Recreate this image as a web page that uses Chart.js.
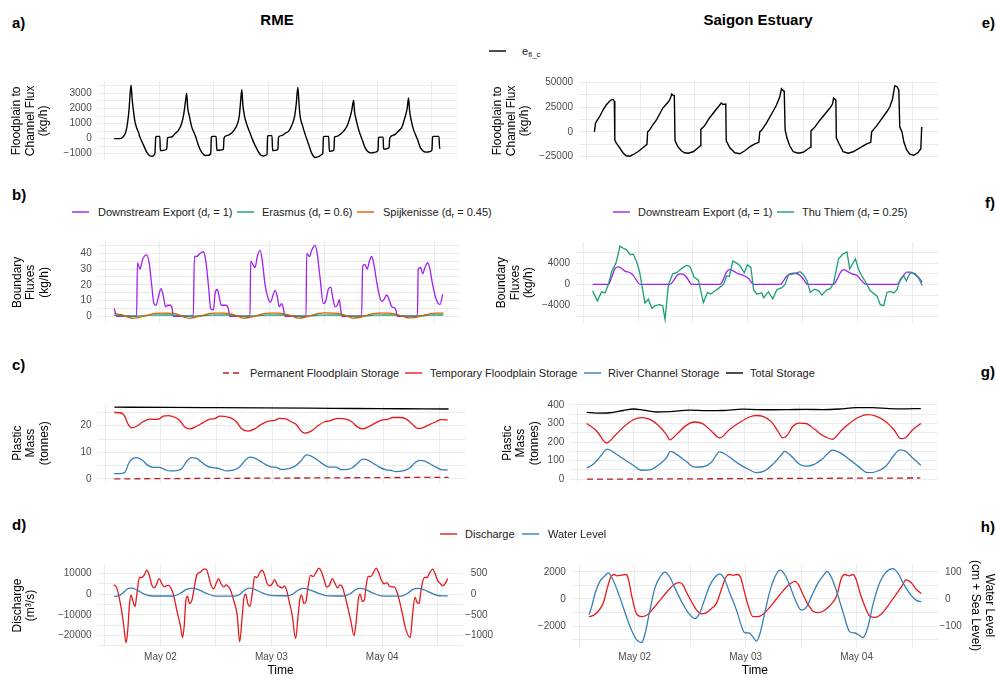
<!DOCTYPE html>
<html>
<head>
<meta charset="utf-8">
<script src="https://cdn.jsdelivr.net/npm/chart.js@4.4.1/dist/chart.umd.min.js"></script>
<style>
  html, body { margin: 0; padding: 0; background: #fff; }
  body { width: 996px; height: 678px; position: relative; overflow: hidden;
         font-family: 'Liberation Sans', Arial, sans-serif; color: #000; }
  canvas { position: absolute; }
  .tag { position: absolute; font-weight: bold; font-size: 15px; line-height: 18px; }
  .colTitle { position: absolute; font-weight: bold; font-size: 15px; line-height: 18px;
              transform: translateX(-50%); white-space: nowrap; }
  .key { position: absolute; height: 14px; display: flex; align-items: center;
         font-size: 11px; color: #222; white-space: nowrap; }
  .key sub { font-size: 8px; vertical-align: -2px; line-height: 0; }
</style>
</head>
<body>
<div class="tag" style="left:12px;top:14px">a)</div>
<div class="tag" style="left:12px;top:186px">b)</div>
<div class="tag" style="left:12px;top:356px">c)</div>
<div class="tag" style="left:12px;top:516px">d)</div>
<div class="tag" style="right:1px;top:14px">e)</div>
<div class="tag" style="right:1px;top:194px">f)</div>
<div class="tag" style="right:1px;top:363px">g)</div>
<div class="tag" style="right:1px;top:518px">h)</div>
<div class="colTitle" style="left:277px;top:11px">RME</div>
<div class="colTitle" style="left:758px;top:11px">Saigon Estuary</div>

<canvas id="pa"></canvas>
<canvas id="pe"></canvas>
<canvas id="pb"></canvas>
<canvas id="pf"></canvas>
<canvas id="pc"></canvas>
<canvas id="pg"></canvas>
<canvas id="pd"></canvas>
<canvas id="ph"></canvas>

<script>
// time axis is hours since May 01 00:00
const timeGrid = [36, 48, 60, 72, 84, 96, 108];
const dayTicks = [48, 72, 96];
const dayLabels = ['May 02', 'May 03', 'May 04'];

// a) RME floodplain to channel flux (kg/h)
const aTime = [38.0,39.3,40.1,40.6,41.0,41.3,41.5,41.75,42.0,42.3,42.6,43.0,43.4,43.7,44.5,45.2,45.9,46.5,47.0,47.2,
  47.4,48.1,48.2,48.9,49.6,49.8,50.4,50.9,51.5,52.2,52.9,53.4,53.8,54.0,
  54.25,54.6,55.1,55.9,56.6,57.3,58.1,58.8,59.3,59.45,59.7,60.5,60.65,61.4,62.1,62.25,62.9,63.6,64.3,65.1,65.6,65.9,66.15,
  66.4,66.75,67.3,68.0,68.7,69.5,70.2,70.9,71.7,71.85,72.05,72.8,72.95,73.5,74.1,74.25,75.0,75.7,76.5,77.2,77.8,78.15,78.5,
  78.75,79.0,79.5,80.1,80.9,81.6,82.3,83.1,83.8,84.0,84.15,84.4,85.3,85.45,86.0,86.45,86.6,87.1,87.9,88.6,89.3,89.9,90.4,90.8,
  91.0,91.4,91.9,92.6,93.4,94.1,94.8,95.6,96.15,96.3,96.5,97.3,97.4,98.1,98.6,98.75,99.3,100.0,100.7,101.5,102.0,102.6,102.9,
  103.15,103.5,104.0,104.8,105.5,106.2,107.0,107.7,108.05,108.2,108.4,109.6,109.75,109.9];
const aFlux = [0,0,150,450,1100,1900,2800,3550,2600,1800,1150,700,400,100,-430,-900,-1150,-1170,-1000,100,
  150,150,-800,-780,-700,50,100,150,350,550,1000,1700,2600,3000,
  2000,1500,800,200,-450,-900,-1120,-1100,-1000,100,150,150,-780,-760,-700,50,200,300,500,900,1500,2500,3250,
  2200,1500,900,350,-200,-700,-1050,-1150,-1050,150,200,200,-800,-780,-720,100,200,350,500,900,1500,2300,3400,
  2400,1500,900,300,-400,-1000,-1250,-1200,-1050,-950,100,150,150,-850,-820,-750,100,150,300,500,800,1300,1900,2550,
  1800,1200,600,0,-650,-900,-950,-900,-800,50,100,100,-700,-680,-600,0,200,300,500,800,1300,2000,2700,
  1800,1200,600,0,-600,-850,-900,-850,-760,100,150,150,-650,-600];
const aTicks = [-1000, 0, 1000, 2000, 3000];
const aGrid = [-1000, -500, 0, 500, 1000, 1500, 2000, 2500, 3000, 3500];

// e) Saigon floodplain to channel flux (kg/h)
const eTime = [37.8,38.05,38.9,39.7,40.4,41.2,41.6,42.0,42.2,42.3,42.6,43.4,44.1,44.8,45.6,46.3,47.4,48.5,49.4,49.55,
  50.0,50.7,51.5,52.2,52.9,53.7,54.25,54.6,54.85,55.15,55.44,55.6,56.25,57.0,57.7,58.5,59.6,60.7,61.2,61.3,
  62.1,63.2,64.4,65.3,65.8,66.2,66.8,66.9,67.7,68.8,69.9,71.0,72.1,73.2,74.1,74.3,74.7,75.8,76.9,78.0,
  78.7,79.1,79.4,79.7,79.9,80.3,80.9,81.7,82.8,83.9,85.0,85.5,85.6,86.5,87.6,88.7,89.8,90.35,90.6,91.1,
  91.2,91.8,92.7,93.8,94.9,96.4,97.9,98.8,99.0,100.1,101.2,102.3,103.0,103.6,104.1,104.6,105.0,105.2,105.7,106.1,
  106.7,107.4,108.3,109.3,109.85,110.05];
const eFlux = [0,9000,15000,22000,27000,31000,32500,32500,31000,-8000,-11000,-16000,-21000,-24000,-24500,-23000,-20000,-16000,-12500,0,
  2000,7000,12000,18000,24000,28000,31000,34000,38000,37000,36500,-9000,-15000,-19000,-21000,-21500,-20000,-16000,-14000,2500,
  6000,14000,21000,26000,29000,27500,28000,-9000,-16000,-21000,-22000,-19000,-15000,-12000,-10500,0,1500,9000,18000,27000,
  35000,43500,42000,41000,2000,-6000,-14000,-20000,-21500,-20500,-17000,-15500,1000,5000,12000,18000,24000,28000,34000,32000,
  -6000,-12000,-20000,-21500,-20000,-16000,-12000,-10500,0,6000,13000,20000,25000,33000,46500,45500,42000,5000,0,-10000,
  -18000,-22500,-23500,-20500,-17000,5000];
const eTicks = [-25000, 0, 25000, 50000];
const eGrid = [-25000, -12500, 0, 12500, 25000, 37500, 50000];

// b) RME boundary fluxes (kg/h)
const bExpTime = [38.0,38.2,38.55,42.9,43.1,43.65,44.2,45.1,45.7,46.2,46.7,47.15,47.65,48.25,48.75,49.25,49.7,50.2,50.6,50.95,
  55.3,55.55,56.05,56.8,57.5,58.0,58.6,59.1,59.7,60.1,60.55,61.0,61.4,61.9,62.45,62.95,63.3,
  67.7,67.85,68.3,68.8,69.3,69.9,70.4,71.0,71.7,72.2,72.8,73.2,73.7,74.1,74.6,75.0,75.35,
  79.95,80.1,80.7,81.2,81.9,82.4,83.0,83.75,84.3,84.8,85.35,85.8,86.3,86.8,87.25,87.5,87.8,
  92.1,92.35,92.85,93.35,93.8,94.3,94.8,95.4,96.0,96.5,96.85,97.6,98.2,98.7,99.25,99.6,99.9,
  104.3,104.5,105.0,105.45,105.95,106.55,107.05,107.65,108.4,108.9,109.25,109.85];
const bExport = [5,3,0,0,34,30,36,39,33,20,8,7,12,17.5,13,6,7,7,6,0,
  0,38,38,40,41,36,20,5,4,15,17,12,7,7,7,5,0,
  0,35,33,31,38,42,35,20,11,9,14,16.5,12,6,8,5,0,
  0,40,38,42,45,40,25,8,10,17,18.5,12,6,7,10.5,5,0,
  0,32,33,30,35,38,33,22,13,9.5,10,13.5,10,6,5.5,4,0,
  0,30,31,27,31,34,30,20,11,8,7.5,14];
const bErTime = [38,40,42,44,46,50,52.5,54.5,57,59,63,65,66.5,69,71,75,77,78.5,81,83,87,89,90.5,93,95,99,101,102.8,105,107,110];
const bErasmus = [0.6,0.3,0,0.2,0.7,0.8,0.4,0,0.3,0.7,0.8,0.3,0,0.3,0.7,0.8,0.3,0,0.3,0.7,0.8,0.3,0,0.3,0.7,0.8,0.3,0,0.3,0.7,0.8];
const bSpTime = [38,39.5,41,42,43,44.5,46,47,49,51,52.5,53.5,54.5,55.5,57,58.5,60,62,63.5,65,
  66.2,67.5,69,70.5,72,74,75.5,77,78.2,79.5,81,82.5,84,86,87.5,89,90.2,91.5,93,94.5,
  96,98,99.5,101,102.6,104,105.5,107,108.5,110];
const bSpijk = [1.8,1.0,-0.5,-1.3,-1.0,0,1.2,1.8,2.0,1.8,0.5,-0.8,-1.3,-0.8,0.3,1.5,2.0,2.0,1.5,0,
  -1.2,-0.8,0.3,1.5,2.0,2.0,1.3,0,-1.2,-0.8,0.4,1.6,2.1,2.0,1.5,0,-1.2,-0.8,0.3,1.6,
  2.0,2.0,1.4,0,-1.1,-0.7,0.4,1.5,2.0,2.0];
const bTicks = [0, 10, 20, 30, 40];
const bGrid = [0, 5, 10, 15, 20, 25, 30, 35, 40, 45];

// f) Saigon boundary fluxes (kg/h)
const fExpTime = [38.05,41.5,42.2,42.95,43.7,44.4,45.15,46.25,46.95,47.7,48.4,55.0,55.75,56.45,57.2,57.95,58.65,59.4,59.75,66.0,
  66.7,67.4,68.15,68.9,70.0,71.1,72.2,72.9,73.3,79.15,79.85,80.6,81.3,82.2,83.15,83.9,84.6,85.1,90.8,91.55,
  92.3,93.0,93.75,94.85,95.95,96.65,97.4,98.0,104.7,105.45,106.2,106.9,107.65,108.75,109.85,110.2];
const fExport = [0,0,1300,3000,3300,3000,2500,2200,1700,700,0,0,700,1600,2000,1900,1300,300,0,0,
  1000,2400,2800,2500,2000,1700,1100,300,0,0,700,1600,2000,2100,1900,1300,500,0,0,900,
  2200,2800,2500,2000,1700,1000,300,0,0,800,1800,2300,2300,1800,900,400];
const fThuTime = [38.05,39.07,40.0,40.75,41.5,42.2,43.15,44.05,44.75,45.5,46.25,46.95,47.7,48.3,48.8,49.5,50.25,51.0,51.7,52.8,
  53.4,53.9,54.65,55.6,56.45,57.55,58.65,59.4,60.25,61.2,62.3,63.2,63.9,64.9,65.8,66.7,67.4,68.0,68.75,69.6,
  70.35,71.25,71.95,72.7,73.3,74.0,75.1,75.5,76.55,77.5,78.4,79.5,80.2,80.95,82.05,83.5,84.25,85.0,85.7,86.6,
  87.55,88.25,89.35,90.1,90.8,91.9,93.0,93.75,94.35,94.85,95.6,96.3,97.05,97.75,98.85,100.35,101.05,101.8,102.5,103.25,
  104.0,104.7,105.45,106.2,106.75,107.5,108.0,108.75,109.45,110.2];
const fThuThiem = [-1200,-3100,-1400,-1600,0,2400,4000,7200,6800,6500,5600,5700,4200,2500,0,-3500,-2800,-4500,-4000,-3800,
  -4000,-6600,0,2000,2200,3000,3600,3300,1400,800,-3400,-1500,-1800,-1200,-600,0,1600,1500,4400,4000,
  3500,2200,3700,3200,-1000,-1800,-1600,-2500,-1400,-2700,-1000,-600,0,1800,2000,2400,1800,700,-1500,-900,
  -1200,-2000,-1000,-800,200,4800,5800,6100,2900,3700,4800,2800,1500,600,-1200,-2200,-3800,-4000,-1500,-1300,
  -1600,-1000,1000,1600,700,2000,2200,2000,1200,-200];
const fTicks = [-4000, 0, 4000];
const fGrid = [-6000, -4000, -2000, 0, 2000, 4000, 6000];

// c) RME plastic mass (tonnes)
const cPermTime = [38,50,62,74,86,98,110];
const cPerm = [0.0,0.1,0.2,0.3,0.4,0.5,0.6];
const cTempTime = [37.95,39.2,40.1,41.0,41.7,42.8,44.2,45.7,46.75,47.7,48.55,49.6,51.05,52.1,53.2,54.25,55.7,57.15,58.55,59.65,
  60.7,61.8,63.2,64.3,65.35,66.8,68.25,69.65,71.45,72.55,73.6,75.05,76.1,77.2,78.25,79.0,80.4,81.85,83.3,84.35,
  85.45,86.15,87.6,89.0,90.45,91.5,92.95,94.4,95.8,96.9,97.95,99.4,100.85,102.25,103.35,104.4,105.85,107.3,108.35,109.8];
const cTemp = [25.0,24.9,24.0,20.5,19.2,19.8,21.5,22.5,22.4,22.6,23.6,23.8,23.2,22.0,19.5,18.8,19.8,21.2,22.5,22.7,
  23.6,23.5,22.9,21.5,19.0,18.0,18.8,20.5,21.8,22.0,22.8,22.5,21.5,20.5,18.0,17.2,18.0,20.0,21.5,21.8,
  22.5,22.8,22.6,21.7,19.5,18.8,19.8,21.2,22.2,22.4,23.1,23.1,22.6,20.5,19.0,19.2,20.4,21.5,22.3,22.2];
const cRivTime = [37.95,39.6,40.3,41.0,41.7,42.8,43.9,44.95,46.4,47.7,48.9,50.0,51.4,52.5,53.55,54.6,55.7,56.8,58.2,60.0,
  61.05,62.15,63.6,65.0,66.1,67.15,68.25,69.3,70.75,71.8,72.9,73.95,75.4,76.85,78.25,79.35,80.4,81.5,82.9,84.35,
  85.8,86.85,88.3,89.35,90.45,91.5,92.6,93.65,95.1,96.55,97.6,98.7,100.1,101.55,102.6,103.7,104.75,105.85,107.3,108.7,109.8];
const cRiver = [2.0,2.1,2.5,5.5,7.3,8.0,7.2,5.5,4.3,4.3,3.5,3.0,3.1,3.8,6.5,8.0,7.7,6.3,4.6,4.1,
  3.6,3.0,3.3,4.5,6.8,8.2,7.8,6.8,5.3,4.5,4.3,3.6,3.8,4.7,6.8,9.0,8.6,7.4,5.6,4.4,
  4.4,3.5,3.6,4.3,6.0,7.4,7.1,6.0,4.4,3.4,3.2,2.7,3.0,4.0,5.8,7.0,6.8,5.8,4.4,3.4,3.4];
const cTotTime = [38,50,60,70,80,90,100,110];
const cTotal = [27.0,26.9,26.8,26.7,26.6,26.5,26.4,26.3];
const cTicks = [0, 10, 20];
const cGrid = [0, 5, 10, 15, 20, 25];

// g) Saigon plastic mass (tonnes)
const gPermTime = [38,50,62,74,86,98,110];
const gPerm = [0,1,2,3,4.5,5.5,6.5];
const gTempTime = [37.95,40.1,42.25,44.05,45.85,48.0,49.8,51.6,53.4,55.15,55.9,57.3,59.45,61.25,63.05,64.85,66.65,68.8,70.95,73.1,
  74.55,76.0,77.8,79.2,80.3,81.35,82.45,83.9,85.3,87.1,88.9,91.05,92.85,94.65,96.8,98.6,100.4,102.55,104.35,105.8,
  106.85,108.3,110.1];
const gTemp = [300,260,195,235,280,320,332,322,290,240,212,240,290,308,298,260,222,268,305,335,
  343,338,310,260,222,240,285,302,300,270,235,215,260,300,335,348,340,310,265,218,
  225,265,300];
const gRivTime = [37.95,39.35,40.8,42.4,44.05,45.85,48.0,49.8,51.6,53.4,55.15,56.05,57.3,59.45,61.25,63.05,64.85,66.65,68.45,70.6,
  72.75,74.55,76.35,78.15,79.95,80.65,82.1,83.9,85.3,87.1,88.9,91.05,92.85,95.0,96.8,98.6,100.4,102.55,104.35,105.55,
  106.85,108.3,110.1];
const gRiver = [60,80,120,162,140,110,75,48,50,75,115,150,135,95,65,67,90,147,125,85,
  55,35,45,80,130,150,125,80,70,80,110,157,140,100,65,35,40,70,130,158,
  150,115,75];
const gTotTime = [37.95,40.1,42.95,45.85,48.0,50.15,53.0,55.9,60.2,63.8,67.35,71.7,74.55,78.15,81.75,85.3,88.9,92.5,96.1,99.7,
  103.25,106.85,110.1];
const gTotal = [360,356,358,370,378,372,362,364,372,369,370,377,375,374,375,376,375,378,385,386,380,379,380];
const gTicks = [0, 100, 200, 300, 400];
const gGrid = [0, 50, 100, 150, 200, 250, 300, 350, 400];

// d) RME discharge (m3/s) and water level
const dQTime = [37.95,38.55,39.1,39.6,40.1,40.55,40.9,41.3,41.65,42.0,42.5,42.9,43.45,43.95,44.45,45.05,45.6,46.2,46.7,47.2,
  47.7,48.3,48.8,49.25,49.75,50.25,50.85,51.55,52.3,52.8,53.15,53.5,53.85,54.3,54.8,55.3,55.9,56.6,57.35,57.9,
  58.45,59.0,59.5,60.1,60.6,61.1,61.7,62.2,62.75,63.15,63.85,64.6,65.15,65.65,66.05,66.45,66.9,67.35,67.85,68.4,
  68.9,69.5,70.0,70.5,71.1,71.65,72.2,72.7,73.25,73.85,74.35,74.85,75.3,75.8,76.5,77.25,77.8,78.2,78.55,79.05,
  79.5,79.9,80.5,81.1,81.8,82.3,82.8,83.4,83.95,84.5,85.2,85.7,86.3,86.85,87.35,87.95,88.6,89.2,89.9,90.4,
  90.85,91.2,91.7,92.1,92.45,92.95,93.55,94.1,94.7,95.2,95.85,96.4,97.0,97.5,98.1,98.6,99.1,99.7,100.4,101.1,
  102.05,102.55,103.1,103.5,103.95,104.4,105.1,105.7,106.2,106.9,107.4,108.0,108.6,109.1,109.6,110.15];
const dQ = [4500,3000,-2000,-8000,-16000,-23500,-18000,-5000,-500,-3000,-6000,0,8000,8000,9000,11500,9000,4000,3000,5000,
  7500,5000,3500,4000,4200,3000,-500,-8000,-15000,-21000,-15000,-3000,-1000,-4500,-3000,3000,9500,10500,12000,12000,
  8500,4000,2500,5500,7500,5000,3500,4500,3500,2000,-3000,-10000,-23000,-12000,-2000,0,-4500,-6000,0,8500,
  8000,10500,11500,9500,5000,4000,5000,7000,4500,3500,3000,4000,2000,-3000,-10000,-21500,-10000,-2000,-500,-4500,
  -3500,3000,9000,8500,11000,12500,11000,7000,3500,4000,7500,5500,3000,4500,3500,-1000,-7000,-13000,-20000,-12000,
  -2000,0,-3500,-3000,3000,8500,8500,10500,12500,10500,6500,5000,5500,4000,3500,3500,1500,-3000,-10000,-17000,
  -21000,-10000,-1500,-4000,-4500,2000,8000,8000,10000,12000,10000,6500,5000,4000,5000,7500];
const dWlTime = [37.95,38.9,40.0,41.05,41.8,42.9,44.3,45.75,47.2,49.4,50.85,52.3,53.75,54.8,56.25,57.7,59.5,61.7,63.85,64.95,
  66.05,67.1,68.55,70.0,71.8,74.0,75.45,76.5,77.6,78.7,80.15,81.95,83.75,85.55,87.75,89.2,90.25,91.2,92.45,93.9,
  95.7,97.85,100.05,101.5,102.55,103.65,105.1,106.55,108.35,110.15];
const dWl = [-55,-45,40,140,145,100,10,-40,-45,-45,-45,20,120,140,110,30,-40,-50,-50,-20,
  80,145,110,30,-30,-40,-40,-10,80,140,110,30,-35,-45,-45,20,110,140,110,30,
  -40,-50,-50,20,110,140,100,30,-40,-45];
const dTicks = [-20000, -10000, 0, 10000];
const dGrid = [-25000, -20000, -15000, -10000, -5000, 0, 5000, 10000];
const dWlTicks = [-1000, -500, 0, 500];

// h) Saigon discharge (m3/s) and water level (cm + sea level)
const hQTime = [38.1,39.05,40.1,41.2,42.05,42.8,43.5,44.2,45.15,46.1,46.6,47.3,48.4,49.5,50.55,52.0,53.45,54.9,56.7,57.75,
  58.5,59.2,60.3,61.35,62.45,63.55,64.6,65.7,66.75,67.7,68.45,69.3,70.15,70.9,71.6,72.55,73.6,74.7,75.8,77.25,
  78.65,80.1,81.55,82.65,83.35,84.45,85.5,86.6,87.7,88.75,90.2,91.65,92.7,93.45,94.4,95.25,95.95,96.7,97.75,98.85,
  99.95,101.35,102.8,104.25,105.7,106.75,107.85,108.95,110.0];
const hQ = [-1300,-1200,-900,-300,800,1600,1800,1700,1750,1800,1500,300,-1100,-1300,-1200,-700,-100,500,1100,1200,
  1000,500,-200,-800,-1100,-1000,-700,-300,700,1600,1800,1750,1800,1600,700,-500,-1300,-1300,-1100,-600,
  0,600,1100,1300,1100,300,-400,-900,-1000,-900,-500,200,1500,1800,1700,1800,1400,500,-500,-1250,
  -1350,-1100,-500,200,900,1400,1200,700,400];
const hWlTime = [38.1,38.65,39.4,40.45,41.55,42.25,43.0,44.05,45.5,46.95,48.4,49.5,50.2,51.3,52.35,53.45,54.5,55.6,56.7,58.15,
  59.55,61.0,62.1,63.15,64.25,65.35,66.4,67.5,68.6,70.0,71.1,71.8,72.75,73.6,74.35,75.05,76.15,77.25,78.3,79.4,
  80.45,81.55,82.65,84.05,85.15,86.25,87.7,88.75,89.6,90.55,91.65,93.1,94.5,95.6,96.7,97.4,98.5,99.55,101.0,102.45,
  103.9,104.95,106.05,107.5,108.95,110.0];
const hWl = [-58,-30,20,65,85,96,80,40,-30,-100,-150,-160,-130,-40,40,80,99,80,40,-10,
  -50,-72,-50,0,50,80,92,70,20,-40,-100,-124,-125,-140,-155,-130,-50,30,80,106,
  90,50,0,-41,-30,10,60,85,101,80,30,-50,-120,-125,-135,-142,-100,-20,60,100,
  112,95,60,20,-5,-10];
const hTicks = [-2000, 0, 2000];
const hGrid = [-3000, -2000, -1000, 0, 1000, 2000];
const hWlTicks = [-100, 0, 100];

const BLACK = '#000000', PURPLE = '#a020f0', TEAL = '#1b9e77', ORANGE = '#d95f02',
      RED = '#e41a1c', BLUE = '#377eb8', DARKRED = '#b81d24';
const GRID = '#ebebeb', TICK = '#4d4d4d';
const FONT = "'Liberation Sans', Arial, sans-serif";
const WL_FACTOR = 20; // secondary axis: water level = discharge / 20

Chart.defaults.font.family = FONT;

function fmt(v) { return v < 0 ? '\u2212' + Math.abs(v) : String(v); }

function series(label, xs, ys, color, smooth, extra) {
  return Object.assign({
    label: label,
    data: xs.map((x, i) => ({x: x, y: ys[i]})),
    borderColor: color,
    borderWidth: 1.3,
    pointRadius: 0,
    fill: false,
    tension: smooth ? 0.4 : 0,
    cubicInterpolationMode: smooth ? 'monotone' : 'default'
  }, extra || {});
}

function setTicks(values) {
  return s => { s.ticks = values.map(v => ({value: v})); };
}

function makePanel(id, box, area, y, datasets, opt) {
  opt = opt || {};
  const cv = document.getElementById(id);
  cv.width = box.w;
  cv.height = box.h;
  cv.style.left = box.x + 'px';
  cv.style.top = box.y + 'px';

  const titleFont = {size: 12, lineHeight: 1.125};
  const scales = {
    x: {
      type: 'linear', min: 34.4, max: 113.6,
      border: {display: false},
      grid: {color: GRID, lineWidth: 1, drawTicks: false},
      afterBuildTicks: setTicks(timeGrid),
      ticks: {
        autoSkip: false, maxRotation: 0,
        padding: 4.5, color: TICK, font: {size: 10},
        callback: v => (opt.timeAxis && dayTicks.includes(v)) ? dayLabels[dayTicks.indexOf(v)] : ''
      },
      title: opt.timeAxis
        ? {display: true, text: 'Time', color: '#000', font: titleFont, padding: {top: 0, bottom: 0.5}}
        : {display: false},
      afterFit: s => { s.height = box.y + box.h - area.B; }
    },
    y: {
      type: 'linear', position: 'left', min: y.min, max: y.max,
      border: {display: false},
      grid: {color: GRID, lineWidth: 1, drawTicks: false},
      afterBuildTicks: setTicks(y.grid),
      ticks: {
        autoSkip: false,
        padding: 6, color: TICK, font: {size: 10},
        callback: v => y.labels.includes(v) ? fmt(v) : ''
      },
      title: y.title
        ? {display: true, text: y.title, color: '#000', font: titleFont,
           padding: {top: y.titleX - box.x - 6.75, bottom: 0}}
        : {display: false},
      afterFit: s => { s.width = area.L - box.x; }
    }
  };
  if (opt.right) {
    const r = opt.right;
    scales.y1 = {
      type: 'linear', position: 'right', min: y.min / WL_FACTOR, max: y.max / WL_FACTOR,
      border: {display: false},
      grid: {display: false, drawTicks: false},
      afterBuildTicks: setTicks(r.labels),
      ticks: {
        autoSkip: false,
        padding: 1.5, color: TICK, font: {size: 10},
        callback: v => v < 0 ? '\u2212' + Math.abs(v) : '\u2007' + v
      },
      title: r.title
        ? {display: true, text: r.title, color: '#000', font: titleFont, padding: {top: 0, bottom: 0}}
        : {display: false},
      afterFit: s => { s.width = box.x + box.w - area.R; }
    };
  }
  return new Chart(cv, {
    type: 'line',
    data: {datasets: datasets},
    options: {
      responsive: false,
      animation: false,
      devicePixelRatio: 1,
      events: [],
      layout: {padding: {left: 0, top: area.T - box.y, bottom: 0,
                         right: opt.right ? 0 : box.x + box.w - area.R}},
      plugins: {legend: {display: false}, tooltip: {enabled: false}},
      scales: scales
    }
  });
}

const fluxTitle = ['Floodplain to', 'Channel Flux', '(kg/h)'];
const boundTitle = ['Boundary', 'Fluxes', '(kg/h)'];
const massTitle = ['Plastic', 'Mass', '(tonnes)'];

makePanel('pa', {x: 0, y: 60, w: 490, h: 112}, {L: 97.7, R: 457.1, T: 81.7, B: 163.3},
  {min: -1420, max: 3780, grid: aGrid, labels: aTicks, title: fluxTitle, titleX: 17},
  [series('e_fl_c', aTime, aFlux, BLACK, true, {borderWidth: 1.4})]);

makePanel('pe', {x: 490, y: 60, w: 506, h: 112}, {L: 579, R: 937.8, T: 81.7, B: 163.3},
  {min: -28300, max: 50500, grid: eGrid, labels: eTicks, title: fluxTitle, titleX: 498},
  [series('e_fl_c', eTime, eFlux, BLACK, false, {borderWidth: 1.4})]);

makePanel('pb', {x: 0, y: 228, w: 490, h: 107}, {L: 97.7, R: 459.9, T: 241.7, B: 325},
  {min: -4.3, max: 47.4, grid: bGrid, labels: bTicks, title: boundTitle, titleX: 17.5},
  [series('Spijkenisse', bSpTime, bSpijk, ORANGE, true),
   series('Erasmus', bErTime, bErasmus, TEAL, true),
   series('Downstream Export', bExpTime, bExport, PURPLE, true)]);

makePanel('pf', {x: 490, y: 228, w: 506, h: 107}, {L: 576, R: 937.6, T: 242.2, B: 325},
  {min: -7250, max: 7940, grid: fGrid, labels: fTicks, title: boundTitle, titleX: 501.7},
  [series('Thu Thiem', fThuTime, fThuThiem, TEAL, false),
   series('Downstream Export', fExpTime, fExport, PURPLE, true)]);

makePanel('pc', {x: 0, y: 390, w: 490, h: 105}, {L: 97.6, R: 465.3, T: 403.3, B: 486.7},
  {min: -1.55, max: 28.45, grid: cGrid, labels: cTicks, title: massTitle, titleX: 17.5},
  [series('Total Storage', cTotTime, cTotal, BLACK, true),
   series('River Channel Storage', cRivTime, cRiver, BLUE, true),
   series('Temporary Floodplain Storage', cTempTime, cTemp, RED, true),
   series('Permanent Floodplain Storage', cPermTime, cPerm, DARKRED, true, {borderDash: [6, 4]})]);

makePanel('pg', {x: 490, y: 390, w: 506, h: 105}, {L: 570.3, R: 937, T: 403.3, B: 486.7},
  {min: -20.6, max: 408.8, grid: gGrid, labels: gTicks, title: massTitle, titleX: 507.5},
  [series('Total Storage', gTotTime, gTotal, BLACK, true),
   series('River Channel Storage', gRivTime, gRiver, BLUE, true),
   series('Temporary Floodplain Storage', gTempTime, gTemp, RED, true),
   series('Permanent Floodplain Storage', gPermTime, gPerm, DARKRED, true, {borderDash: [6, 4]})]);

makePanel('pd', {x: 0, y: 548, w: 505, h: 130}, {L: 97.6, R: 463.6, T: 564.3, B: 646.7},
  {min: -25350, max: 14370, grid: dGrid, labels: dTicks, title: ['Discharge', '(m\u00b3/s)'], titleX: 17.5},
  [series('Water Level', dWlTime, dWl, BLUE, true, {yAxisID: 'y1'}),
   series('Discharge', dQTime, dQ, RED, true)],
  {timeAxis: true, right: {labels: dWlTicks}});

makePanel('ph', {x: 490, y: 548, w: 506, h: 130}, {L: 571.9, R: 937.9, T: 564.3, B: 646.7},
  {min: -3507, max: 2551, grid: hGrid, labels: hTicks},
  [series('Water Level', hWlTime, hWl, BLUE, true, {yAxisID: 'y1'}),
   series('Discharge', hQTime, hQ, RED, true)],
  {timeAxis: true, right: {labels: hWlTicks, title: ['Water Level', '(cm + Sea Level)']}});

// legends (left edge of key sample, vertical centre, colour, label, dashed, gap to text)
const keysTop = [[489, 51, BLACK, 'e<sub>fl_c</sub>', false, 16]];
const keysB = [[72, 212, PURPLE, 'Downstream Export (d<sub>r</sub> = 1)', false, 9],
               [237, 212, TEAL, 'Erasmus (d<sub>r</sub> = 0.6)', false, 8],
               [357, 212, ORANGE, 'Spijkenisse (d<sub>r</sub> = 0.45)', false, 9]];
const keysF = [[613, 212, PURPLE, 'Downstream Export (d<sub>r</sub> = 1)', false, 8],
               [777, 212, TEAL, 'Thu Thiem (d<sub>r</sub> = 0.25)', false, 8]];
const keysC = [[223, 373, DARKRED, 'Permanent Floodplain Storage', true, 10],
               [405, 373, RED, 'Temporary Floodplain Storage', false, 8],
               [584, 373, BLUE, 'River Channel Storage', false, 7],
               [726, 373, BLACK, 'Total Storage', false, 7]];
const keysD = [[440, 534, RED, 'Discharge', false, 8],
               [522, 534, BLUE, 'Water Level', false, 9]];

function addKey(k) {
  const d = document.createElement('div');
  d.className = 'key';
  d.style.left = k[0] + 'px';
  d.style.top = (k[1] - 7) + 'px';
  const dash = k[4] ? ' stroke-dasharray="6 4"' : '';
  d.innerHTML = '<svg width="17" height="4" style="margin-right:' + k[5] + 'px">' +
    '<line x1="0" y1="2" x2="17" y2="2" stroke="' + k[2] + '" stroke-width="1.4"' + dash + '/></svg>' +
    '<span>' + k[3] + '</span>';
  document.body.appendChild(d);
}
[keysTop, keysB, keysF, keysC, keysD].forEach(row => row.forEach(addKey));
</script>
</body>
</html>
